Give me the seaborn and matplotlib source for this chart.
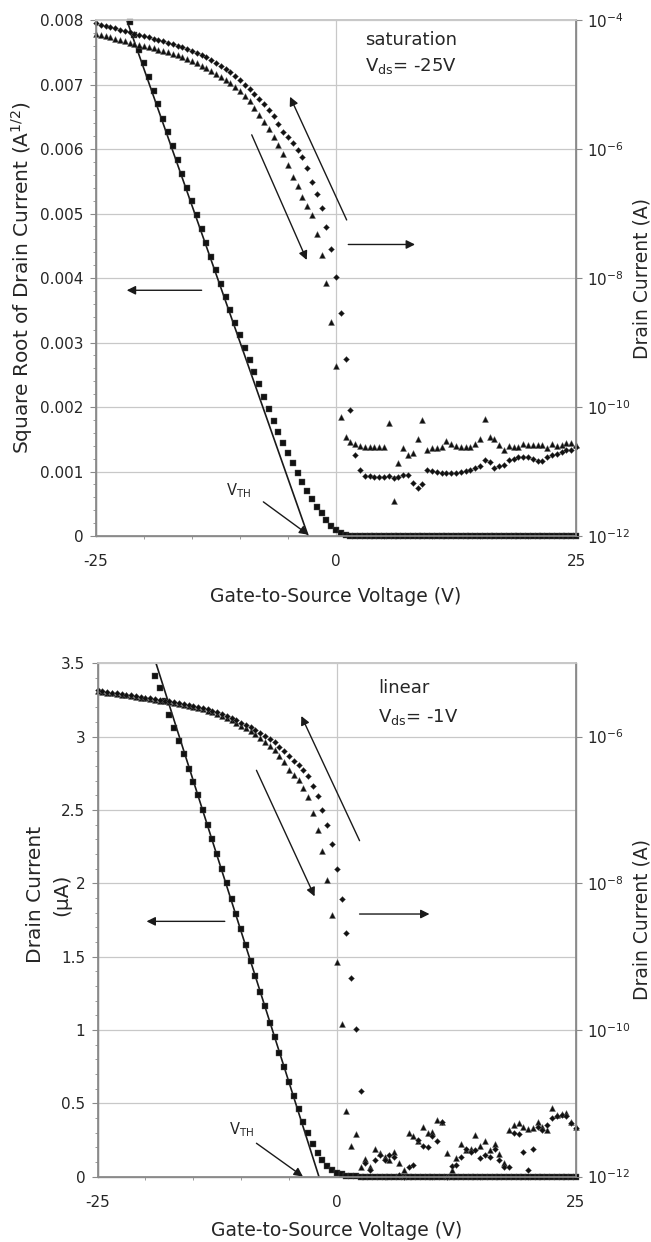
import numpy as np
import pandas as pd
import seaborn as sns
import matplotlib.pyplot as plt
from matplotlib.ticker import MultipleLocator, NullLocator, FixedLocator

sns.set_theme(style='white')
plt.rcParams['font.family'] = ['DejaVu Sans']
plt.rcParams['mathtext.default'] = 'regular'

# gate voltage sweep, 0.5 V steps
vgs = np.linspace(-25, 25, 101)

# --- saturation, Vds = -25 V ---
# square root of drain current, units of 1e-3 A^1/2 (nan = off scale)
sat_sqrt_id = [np.nan, np.nan, np.nan, np.nan, np.nan, np.nan, np.nan,
               7.97, 7.76, 7.54, 7.33, 7.12, 6.90, 6.69, 6.47, 6.26, 6.05,
               5.83, 5.62, 5.40, 5.19, 4.98, 4.76, 4.55, 4.33, 4.12, 3.91,
               3.70, 3.50, 3.31, 3.12, 2.92, 2.73, 2.54, 2.35, 2.16, 1.97,
               1.79, 1.62, 1.45, 1.29, 1.13, 0.98, 0.84, 0.70, 0.57, 0.45,
               0.35, 0.25, 0.16, 0.09, 0.045, 0.018, 0.006, 0.002,
               0, 0, 0, 0, 0, 0, 0, 0, 0, 0, 0, 0, 0, 0, 0, 0, 0, 0, 0, 0, 0, 0, 0,
               0, 0, 0, 0, 0, 0, 0, 0, 0, 0, 0, 0, 0, 0, 0, 0, 0, 0, 0, 0, 0, 0, 0]
# log10 drain current, forward sweep (triangles)
sat_log_fwd = [-4.21, -4.23, -4.25, -4.27, -4.29, -4.31, -4.33, -4.35, -4.37, -4.39,
               -4.40, -4.42, -4.44, -4.46, -4.48, -4.50, -4.53, -4.55, -4.58, -4.61,
               -4.64, -4.67, -4.71, -4.75, -4.79, -4.83, -4.88, -4.93, -4.98, -5.04,
               -5.10, -5.18, -5.26, -5.36, -5.47, -5.58, -5.69, -5.81, -5.94, -6.07,
               -6.25, -6.43, -6.58, -6.74, -6.88, -7.02, -7.31, -7.64, -8.07, -8.68,
               -9.36, -10.15, -10.47, -10.54, -10.57, -10.60, -10.62, -10.62, -10.62, -10.62,
               -10.62, -10.24, -11.45, -10.86, -10.64, -10.74, -10.72, -10.49, -10.20, -10.67,
               -10.64, -10.64, -10.62, -10.52, -10.57, -10.60, -10.62, -10.62, -10.62, -10.57,
               -10.49, -10.19, -10.46, -10.50, -10.59, -10.67, -10.60, -10.62, -10.62, -10.57,
               -10.59, -10.59, -10.59, -10.59, -10.64, -10.57, -10.60, -10.59, -10.55, -10.56,
               -10.59]
# log10 drain current, reverse sweep (diamonds)
sat_log_rev = [-4.05, -4.07, -4.09, -4.11, -4.13, -4.15, -4.17, -4.19, -4.21, -4.23,
               -4.25, -4.27, -4.29, -4.31, -4.33, -4.35, -4.37, -4.40, -4.42, -4.45,
               -4.48, -4.51, -4.55, -4.58, -4.62, -4.66, -4.71, -4.76, -4.81, -4.87,
               -4.93, -5.00, -5.07, -5.14, -5.22, -5.30, -5.39, -5.49, -5.61, -5.73,
               -5.82, -5.91, -6.01, -6.13, -6.30, -6.51, -6.69, -6.92, -7.21, -7.55,
               -7.99, -8.54, -9.26, -10.04, -10.74, -10.98, -11.07, -11.07, -11.08, -11.09,
               -11.09, -11.07, -11.10, -11.08, -11.05, -11.05, -11.17, -11.26, -11.20, -10.98,
               -10.99, -11.00, -11.03, -11.03, -11.03, -11.02, -11.00, -10.99, -10.98, -10.95,
               -10.92, -10.82, -10.85, -10.94, -10.91, -10.90, -10.82, -10.80, -10.77, -10.78,
               -10.78, -10.81, -10.83, -10.83, -10.77, -10.74, -10.73, -10.70, -10.67, -10.67,
               -10.62]
sat_fit_v = [-21.8, -2.9]
sat_fit_y = [0.008, 0.0]

# --- linear, Vds = -1 V ---
# drain current in uA (nan = off scale)
lin_id = [np.nan, np.nan, np.nan, np.nan, np.nan, np.nan, np.nan, np.nan, np.nan, np.nan, np.nan, np.nan,
          3.415, 3.33, 3.24, 3.15, 3.06, 2.97, 2.88, 2.78, 2.69, 2.60,
          2.50, 2.40, 2.30, 2.20, 2.10, 2.00, 1.89, 1.79, 1.69, 1.58,
          1.47, 1.37, 1.26, 1.16, 1.05, 0.95, 0.845, 0.745, 0.647, 0.551,
          0.461, 0.372, 0.295, 0.222, 0.159, 0.11, 0.072, 0.045, 0.026, 0.014,
          0.007, 0.003, 0.001,
          0, 0, 0, 0, 0, 0, 0, 0, 0, 0, 0, 0, 0, 0, 0, 0, 0, 0, 0, 0, 0, 0, 0,
          0, 0, 0, 0, 0, 0, 0, 0, 0, 0, 0, 0, 0, 0, 0, 0, 0, 0, 0, 0, 0, 0, 0]
lin_log_fwd = [-5.38, -5.39, -5.40, -5.41, -5.42, -5.43, -5.44, -5.45, -5.46, -5.47,
               -5.48, -5.49, -5.50, -5.51, -5.52, -5.53, -5.54, -5.55, -5.57, -5.58,
               -5.60, -5.61, -5.63, -5.65, -5.67, -5.69, -5.72, -5.75, -5.78, -5.81,
               -5.85, -5.89, -5.93, -5.97, -6.02, -6.07, -6.13, -6.19, -6.27, -6.35,
               -6.45, -6.52, -6.59, -6.70, -6.83, -7.04, -7.28, -7.56, -7.95, -8.44,
               -9.07, -9.92, -11.10, -11.59, -11.42, -11.87, -11.76, -11.87, -11.62, -11.68,
               -11.73, -11.78, -11.66, -11.82, -11.91, -11.40, -11.45, -11.52, -11.32, -11.41,
               -11.39, -11.23, -11.26, -11.68, -11.91, -11.75, -11.55, -11.64, -11.62, -11.43,
               -11.59, -11.52, -11.64, -11.56, -11.69, -11.82, -11.36, -11.30, -11.27, -11.32,
               -11.35, -11.34, -11.25, -11.32, -11.36, -11.07, -11.16, -11.15, -11.14, -11.25,
               -11.32]
lin_log_rev = [-5.37, -5.38, -5.39, -5.40, -5.41, -5.42, -5.43, -5.44, -5.45, -5.46,
               -5.47, -5.48, -5.49, -5.50, -5.51, -5.52, -5.53, -5.54, -5.55, -5.57,
               -5.58, -5.60, -5.61, -5.63, -5.65, -5.67, -5.69, -5.72, -5.75, -5.78,
               -5.81, -5.84, -5.87, -5.91, -5.95, -5.99, -6.03, -6.08, -6.14, -6.20,
               -6.27, -6.33, -6.39, -6.46, -6.54, -6.68, -6.81, -7.00, -7.20, -7.47,
               -7.81, -8.21, -8.68, -9.29, -9.99, -10.84, -11.82, -11.91, -11.78, -11.71,
               -11.78, -11.70, -11.73, -11.98, -12.00, -11.87, -11.84, -11.50, -11.58, -11.60,
               -11.45, -11.51, -11.25, -12.00, -11.86, -11.84, -11.73, -11.62, -11.66, -11.64,
               -11.75, -11.71, -11.73, -11.62, -11.78, -11.87, -11.87, -11.41, -11.42, -11.66,
               -11.91, -11.62, -11.33, -11.36, -11.30, -11.20, -11.18, -11.16, -11.18, -11.27,
               -11.34]
lin_fit_v = [-18.9, -1.87]
lin_fit_y = [3.5, 0.0]

GRID = '#c8c8c8'
SPINE = '#8a8a8a'
TXT = '#262626'
MK = '#111111'


def arrow(ax, start, end):
    ax.annotate('', xy=end, xytext=start,
                arrowprops=dict(arrowstyle='-|>', color='k', lw=1.0,
                                mutation_scale=13, shrinkA=0, shrinkB=0))


def panel(ax, left_vals, tri, dia, fit_v, fit_y, ymax, ystep, yminor, ylabels,
          log_lo, log_hi, log_ticks, ylabel, xpad):
    df = pd.DataFrame({'vgs': vgs, 'left': left_vals,
                       'fwd': 10.0 ** np.array(tri), 'rev': 10.0 ** np.array(dia)})
    ax.set_xlim(-25, 25)
    ax.set_ylim(0, ymax)
    ax.set_yticks(np.arange(0, ymax + ystep / 2, ystep))
    ax.set_yticklabels(ylabels)
    ax.yaxis.set_minor_locator(MultipleLocator(yminor))
    ax.set_xticks([-25, 0, 25])
    ax.set_xticklabels(['-25', '0', '25'])
    ax.xaxis.set_minor_locator(MultipleLocator(5))
    ax.grid(True, which='major', color=GRID, lw=0.9)
    ax.set_axisbelow(True)
    for s in ['left', 'bottom', 'right']:
        ax.spines[s].set_color(SPINE)
        ax.spines[s].set_linewidth(1.0)
    ax.spines['top'].set_color(GRID)
    ax.tick_params(axis='both', which='major', direction='out', length=4, width=0.8,
                   color=SPINE, labelsize=11, labelcolor=TXT)
    ax.tick_params(axis='both', which='minor', direction='out', length=2.5, width=0.6,
                   color=SPINE, left=True, bottom=True)
    ax.tick_params(axis='x', which='major', pad=9)
    ax.tick_params(axis='y', which='major', pad=5)

    sns.lineplot(x=fit_v, y=fit_y, color='k', lw=1.2, ax=ax)
    sns.scatterplot(data=df, x='vgs', y='left', marker='s', s=13, color=MK,
                    edgecolor='#555555', linewidth=0.3, ax=ax, clip_on=False, zorder=3)
    ax.set_xlabel('Gate-to-Source Voltage (V)', fontsize=13.5, color=TXT, labelpad=xpad)
    ax.set_ylabel(ylabel, fontsize=14.5, color=TXT)

    ax2 = ax.twinx()
    ax2.set_yscale('log')
    sns.scatterplot(data=df, x='vgs', y='fwd', marker='^', s=18, color=MK,
                    edgecolor='#555555', linewidth=0.3, ax=ax2, clip_on=False)
    sns.scatterplot(data=df, x='vgs', y='rev', marker='D', s=9, color=MK,
                    edgecolor='#555555', linewidth=0.3, ax=ax2, clip_on=False)
    ax2.set_ylim(10.0 ** log_lo, 10.0 ** log_hi)
    ax2.yaxis.set_major_locator(FixedLocator([10.0 ** e for e in log_ticks]))
    ax2.set_yticklabels(['$10^{%d}$' % e for e in log_ticks])
    ax2.yaxis.set_minor_locator(NullLocator())
    ax2.tick_params(axis='y', which='major', direction='out', length=4, width=0.8,
                    color=SPINE, labelsize=11, labelcolor=TXT, pad=4)
    for s in ['left', 'bottom', 'right']:
        ax2.spines[s].set_color(SPINE)
    ax2.spines['top'].set_color(GRID)
    ax2.set_ylabel('Drain Current (A)', fontsize=13.5, color=TXT, rotation=90)
    ax2.yaxis.set_label_coords(1.118, 0.5)
    return ax2


fig = plt.figure(figsize=(6.51, 12.42), dpi=100)
ax_sat = fig.add_axes([0.1475, 0.5684, 0.7373, 0.4155])
ax_lin = fig.add_axes([0.150, 0.0527, 0.7347, 0.4133])

panel(ax_sat, np.array(sat_sqrt_id) * 1e-3, sat_log_fwd, sat_log_rev, sat_fit_v, sat_fit_y,
      0.008, 0.001, 0.0002,
      ['0', '0.001', '0.002', '0.003', '0.004', '0.005', '0.006', '0.007', '0.008'],
      -12, -4, [-4, -6, -8, -10, -12], 'Square Root of Drain Current (A$^{1/2}$)', 13)
ax_sat.yaxis.set_label_coords(-0.128, 0.5)

panel(ax_lin, lin_id, lin_log_fwd, lin_log_rev, lin_fit_v, lin_fit_y,
      3.5, 0.5, 0.1,
      ['0', '0.5', '1', '1.5', '2', '2.5', '3', '3.5'],
      -12, -5, [-6, -8, -10, -12], 'Drain Current', 8)
ax_lin.yaxis.set_label_coords(-0.110, 0.549)
# second line of the left axis title
ax_lin.text(-0.0747, 0.549, '(\u03bcA)', transform=ax_lin.transAxes, rotation=90,
            fontsize=14.5, color=TXT, ha='center', va='center')

# annotations, saturation panel
arrow(ax_sat, (-8.78, 0.00622), (-3.05, 0.00428))
arrow(ax_sat, (1.11, 0.0049), (-4.79, 0.00681))
arrow(ax_sat, (-14.0, 0.00381), (-21.8, 0.00381))
arrow(ax_sat, (1.28, 0.00452), (8.23, 0.00452))
arrow(ax_sat, (-7.57, 0.00053), (-2.89, 0.00002))
ax_sat.text(-10.2, 0.00071, 'V$_{TH}$', fontsize=10.5, color=TXT, ha='center', va='center')
ax_sat.text(3.0, 0.00769, 'saturation', fontsize=13, color=TXT, ha='left', va='center')
ax_sat.text(3.0, 0.00728, 'V$_{ds}$= -25V', fontsize=13, color=TXT, ha='left', va='center')

# annotations, linear panel
arrow(ax_lin, (-8.40, 2.77), (-2.32, 1.91))
arrow(ax_lin, (2.38, 2.29), (-3.71, 3.14))
arrow(ax_lin, (-11.71, 1.74), (-19.89, 1.74))
arrow(ax_lin, (2.38, 1.79), (9.69, 1.79))
arrow(ax_lin, (-8.40, 0.227), (-3.54, 0.0))
ax_lin.text(-9.97, 0.318, 'V$_{TH}$', fontsize=10.5, color=TXT, ha='center', va='center')
ax_lin.text(4.29, 3.33, 'linear', fontsize=13, color=TXT, ha='left', va='center')
ax_lin.text(4.29, 3.13, 'V$_{ds}$= -1V', fontsize=13, color=TXT, ha='left', va='center')

fig.savefig('out.png', dpi=100, facecolor='white')
